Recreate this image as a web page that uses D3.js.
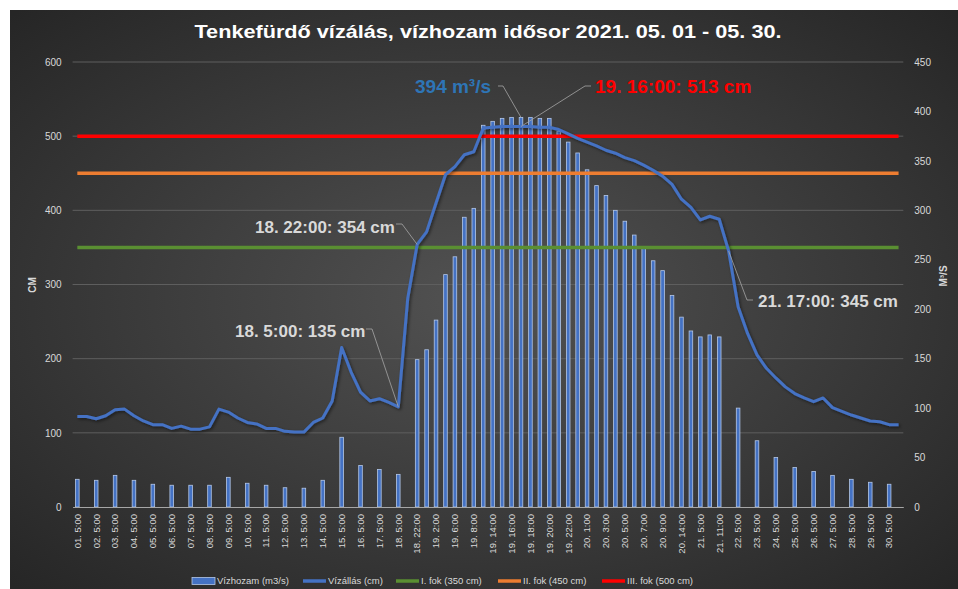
<!DOCTYPE html>
<html>
<head>
<meta charset="utf-8">
<script src="https://cdn.jsdelivr.net/npm/d3@7"></script>
<style>
  body { margin: 0; background: #ffffff; }
  svg text { font-family: "Liberation Sans", Arial, sans-serif; }
</style>
</head>
<body>
<div id="chart"></div>
<script>
// categories: measurement times (every 2nd is labelled on the axis)
let categories = [
  "01. 5:00", "01. 17:00", "02. 5:00", "02. 17:00", "03. 5:00", "03. 17:00",
  "04. 5:00", "04. 17:00", "05. 5:00", "05. 17:00", "06. 5:00", "06. 17:00",
  "07. 5:00", "07. 17:00", "08. 5:00", "08. 17:00", "09. 5:00", "09. 17:00",
  "10. 5:00", "10. 17:00", "11. 5:00", "11. 17:00", "12. 5:00", "12. 17:00",
  "13. 5:00", "13. 17:00", "14. 5:00", "14. 17:00", "15. 5:00", "15. 17:00",
  "16. 5:00", "16. 17:00", "17. 5:00", "17. 17:00", "18. 5:00", "18. 17:00",
  "18. 22:00", "19. 0:00", "19. 2:00", "19. 4:00", "19. 6:00", "19. 7:00",
  "19. 8:00", "19. 12:00", "19. 14:00", "19. 15:00", "19. 16:00", "19. 17:00",
  "19. 18:00", "19. 19:00", "19. 20:00", "19. 21:00", "19. 22:00", "20. 0:00",
  "20. 1:00", "20. 2:00", "20. 3:00", "20. 4:00", "20. 5:00", "20. 6:00",
  "20. 7:00", "20. 8:00", "20. 9:00", "20. 11:00", "20. 14:00", "20. 17:00",
  "21. 5:00", "21. 8:00", "21. 11:00", "21. 17:00", "22. 5:00", "22. 17:00",
  "23. 5:00", "23. 17:00", "24. 5:00", "24. 17:00", "25. 5:00", "25. 17:00",
  "26. 5:00", "26. 17:00", "27. 5:00", "27. 17:00", "28. 5:00", "28. 17:00",
  "29. 5:00", "29. 17:00", "30. 5:00", "30. 17:00"
];

// vízállás (cm)
let level = [
  122, 122, 119, 123, 131, 132, 123, 116, 111, 111, 106, 109,
  105, 105, 108, 132, 128, 120, 114, 112, 106, 106, 102, 101,
  101, 114, 120, 143, 215, 182, 155, 143, 146, 141, 135, 281,
  354, 371, 410, 448, 459, 475, 479, 511, 512, 513, 513, 513,
  513, 512, 512, 509, 503, 497, 492, 487, 481, 477, 471, 467,
  461, 454, 446, 435, 415, 404, 387, 392, 388, 345, 270, 234,
  205, 187, 174, 162, 153, 147, 142, 147, 134, 129, 124, 120,
  116, 115, 111, 111
];

// vízhozam (m3/s), null where not measured
let discharge = [
  28, null, 27, null, 32, null, 27, null, 23, null, 22, null,
  22, null, 22, null, 30, null, 24, null, 22, null, 19.5, null,
  19, null, 27, null, 70.5, null, 42, null, 38, null, 33, null,
  149, 159, 189, 235, 253, 293, 302, 386, 390, 393, 394, 394,
  394, 393, 393, 380, 369, 358, 341, 325, 315, 300, 289, 275,
  262, 249, 239, 214, 192, 178, 172, 174, 172, null, 100, null,
  67, null, 50, null, 40, null, 36, null, 32, null, 28, null,
  25, null, 23, null
];

let thresholds = [
  {name: "I. fok (350 cm)", value: 350, color: "#5a8f32"},
  {name: "II. fok (450 cm)", value: 450, color: "#ed7d31"},
  {name: "III. fok (500 cm)", value: 500, color: "#ff0000"}
];

let leftTicks = [0, 100, 200, 300, 400, 500, 600];
let rightTicks = [0, 50, 100, 150, 200, 250, 300, 350, 400, 450];

let width = 958;
let height = 589;
let margin = {top: 62, bottom: 82, left: 72.6, right: 54.7};

let svg = d3.select("#chart")
  .append("svg")
  .attr("width", width)
  .attr("height", height);

// background panel
let defs = svg.append("defs");
let grad = defs.append("radialGradient")
  .attr("id", "bg")
  .attr("cx", "50%").attr("cy", "50%").attr("r", "70%");
grad.append("stop").attr("offset", "0%").attr("stop-color", "#525252");
grad.append("stop").attr("offset", "100%").attr("stop-color", "#262626");

svg.append("rect")
  .attr("x", 10).attr("y", 10)
  .attr("width", width - 10).attr("height", height - 10)
  .attr("fill", "url(#bg)");

let x = d3.scaleBand()
  .domain(categories)
  .range([margin.left, width - margin.right])
  .padding(0);
let cx = d => x(d) + x.bandwidth() / 2;

let yL = d3.scaleLinear().domain([0, 600]).range([507, 62]);
let yR = d3.scaleLinear().domain([0, 450]).range([507, 62]);

// gridlines
svg.append("g")
  .selectAll("line")
  .data(leftTicks.slice(1))
  .join("line")
    .attr("x1", margin.left).attr("x2", width - margin.right)
    .attr("y1", d => yL(d)).attr("y2", d => yL(d))
    .attr("stroke", "#5e5e5e")
    .attr("stroke-width", 1);

// left axis
let leftAxis = svg.append("g")
  .attr("transform", `translate(${margin.left - 8}, 0)`)
  .call(d3.axisLeft(yL).tickValues(leftTicks).tickSize(0));
leftAxis.select(".domain").remove();
leftAxis.selectAll("text").attr("fill", "#d9d9d9").attr("font-size", "10px");

// right axis
let rightAxis = svg.append("g")
  .attr("transform", `translate(${width - margin.right + 8}, 0)`)
  .call(d3.axisRight(yR).tickValues(rightTicks).tickSize(0));
rightAxis.select(".domain").remove();
rightAxis.selectAll("text").attr("fill", "#d9d9d9").attr("font-size", "10px");

// axis titles
svg.append("text")
  .attr("transform", "translate(36, 285) rotate(-90)")
  .attr("text-anchor", "middle")
  .attr("fill", "#d9d9d9")
  .attr("font-size", "10px")
  .attr("font-weight", "bold")
  .text("CM");

svg.append("text")
  .attr("transform", "translate(947, 276) rotate(-90)")
  .attr("text-anchor", "middle")
  .attr("fill", "#d9d9d9")
  .attr("font-size", "10px")
  .attr("font-weight", "bold")
  .text("M³/S");

// bars (vízhozam)
let barData = categories.map((c, i) => ({cat: c, q: discharge[i]})).filter(d => d.q != null);
let barW = 3.6;
svg.append("g")
  .selectAll("rect")
  .data(barData)
  .join("rect")
    .attr("x", d => cx(d.cat) - barW / 2)
    .attr("y", d => yR(d.q))
    .attr("width", barW)
    .attr("height", d => yR(0) - yR(d.q))
    .attr("fill", "#4472c4")
    .attr("stroke", "#b4c7e7")
    .attr("stroke-width", 0.8);

// x axis
let tickCats = categories.filter((d, i) => i % 2 === 0);
let xAxis = svg.append("g")
  .attr("transform", `translate(0, ${yL(0)})`)
  .call(d3.axisBottom(x).tickValues(tickCats).tickSize(0));
xAxis.select(".domain").attr("stroke", "#a6a6a6").attr("stroke-width", 1);
xAxis.selectAll("text")
  .attr("transform", "rotate(-90)")
  .attr("text-anchor", "end")
  .attr("x", -7)
  .attr("y", 0)
  .attr("dy", "0.35em")
  .attr("dx", 0)
  .attr("fill", "#d9d9d9")
  .attr("font-size", "9.5px");

// threshold lines
thresholds.forEach(t => {
  svg.append("path")
    .datum(categories)
    .attr("fill", "none")
    .attr("stroke", t.color)
    .attr("stroke-width", 3.5)
    .attr("d", d3.line().x(d => cx(d)).y(() => yL(t.value)));
});

// water level line
let shadow = defs.append("filter").attr("id", "shadow")
  .attr("x", "-5%").attr("y", "-5%").attr("width", "110%").attr("height", "110%");
shadow.append("feDropShadow")
  .attr("dx", 1.5).attr("dy", 1.5).attr("stdDeviation", 1.5)
  .attr("flood-color", "#000").attr("flood-opacity", 0.5);

svg.append("path")
  .datum(categories.map((c, i) => ({cat: c, v: level[i]})))
  .attr("fill", "none")
  .attr("stroke", "#4472c4")
  .attr("stroke-width", 3)
  .attr("stroke-linejoin", "round")
  .attr("filter", "url(#shadow)")
  .attr("d", d3.line().x(d => cx(d.cat)).y(d => yL(d.v)));

// title
svg.append("text")
  .attr("x", 488)
  .attr("y", 38)
  .attr("text-anchor", "middle")
  .attr("fill", "#ffffff")
  .attr("font-size", "19px")
  .attr("font-weight", "600")
  .attr("font-family", "'Open Sans', sans-serif")
  .attr("textLength", 587)
  .attr("lengthAdjust", "spacingAndGlyphs")
  .text("Tenkefürdő vízálás, vízhozam idősor 2021. 05. 01 - 05. 30.");

// annotations with leader lines
let idx = c => categories.indexOf(c);
let annotations = [
  {text: "394 m³/s", color: "#2e75b6", size: 19, tx: 415, ty: 93,
   pts: [[498, 86], [503, 86], [cx("19. 17:00"), yR(discharge[idx("19. 17:00")])]]},
  {text: "19. 16:00: 513 cm", color: "#ff0000", size: 19, tx: 595, ty: 93,
   pts: [[591, 86], [585, 86], [cx("19. 17:00"), yL(level[idx("19. 17:00")])]]},
  {text: "18. 22:00: 354 cm", color: "#d9d9d9", size: 17, tx: 255, ty: 233,
   pts: [[396, 224], [402, 224], [cx("18. 22:00"), yL(level[idx("18. 22:00")])]]},
  {text: "18. 5:00: 135 cm", color: "#d9d9d9", size: 17, tx: 235, ty: 337,
   pts: [[366, 329], [372, 329], [cx("18. 5:00"), yL(level[idx("18. 5:00")])]]},
  {text: "21. 17:00: 345 cm", color: "#d9d9d9", size: 17, tx: 758, ty: 307,
   pts: [[753, 300], [747, 300], [cx("21. 17:00"), yL(level[idx("21. 17:00")])]]}
];

annotations.forEach(a => {
  svg.append("path")
    .attr("d", d3.line()(a.pts))
    .attr("fill", "none")
    .attr("stroke", "#a6a6a6")
    .attr("stroke-width", 0.8);
  svg.append("text")
    .attr("x", a.tx)
    .attr("y", a.ty)
    .attr("fill", a.color)
    .attr("font-size", a.size + "px")
    .attr("font-weight", "bold")
    .text(a.text);
});

// legend
let legendItems = [
  {name: "Vízhozam (m3/s)", type: "bar", color: "#4472c4", x: 192},
  {name: "Vízállás (cm)", type: "line", color: "#4472c4", x: 303},
  {name: thresholds[0].name, type: "line", color: thresholds[0].color, x: 396},
  {name: thresholds[1].name, type: "line", color: thresholds[1].color, x: 498},
  {name: thresholds[2].name, type: "line", color: thresholds[2].color, x: 602}
];
let legendY = 581;
let lg = svg.append("g").selectAll("g").data(legendItems).join("g");
lg.filter(d => d.type === "bar").append("rect")
  .attr("x", d => d.x).attr("y", legendY - 3.5)
  .attr("width", 23).attr("height", 7)
  .attr("fill", d => d.color)
  .attr("stroke", "#b4c7e7").attr("stroke-width", 0.8);
lg.filter(d => d.type === "line").append("line")
  .attr("x1", d => d.x).attr("x2", d => d.x + 23)
  .attr("y1", legendY).attr("y2", legendY)
  .attr("stroke", d => d.color).attr("stroke-width", 3.5);
lg.append("text")
  .attr("x", d => d.x + 25)
  .attr("y", legendY)
  .attr("dy", "0.35em")
  .attr("fill", "#d9d9d9")
  .attr("font-size", "9.5px")
  .text(d => d.name);
</script>
</body>
</html>
